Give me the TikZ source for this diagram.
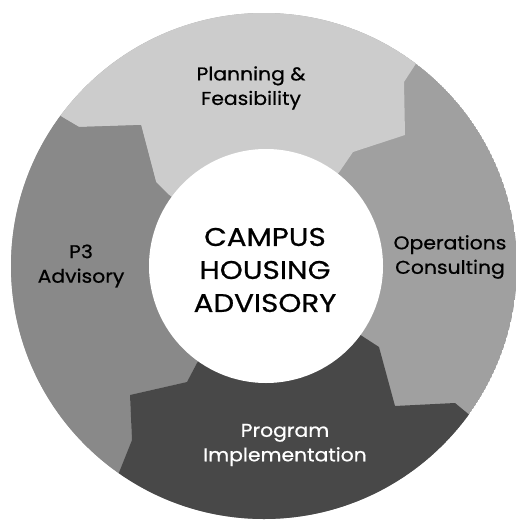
\documentclass[tikz,border=0pt]{standalone}
\usepackage{fontspec}
\setmainfont{Poppins}
\newfontfamily\lblfont[FakeStretch=1.1, FakeBold=0.7]{Poppins}
\newfontfamily\ctrfont[FakeStretch=1.15, FakeBold=0.7]{Poppins}
\definecolor{planc}{RGB}{204,204,204}
\definecolor{opc}{RGB}{160,160,160}
\definecolor{p3c}{RGB}{137,137,137}
\definecolor{progc}{RGB}{72,72,72}
\tikzset{
  lbl/.style={align=center, font=\lblfont\fontsize{18.5}{24.5}\selectfont, inner sep=0pt},
  ctr/.style={align=center, font=\ctrfont\fontsize{25.5}{33}\selectfont, inner sep=0pt}
}
\begin{document}
\begin{tikzpicture}[x=1pt,y=-1pt]
\useasboundingbox (0,0) rectangle (516,522);
\fill[white] (0,0) rectangle (516,522);
\coordinate (O) at (264,266);
\begin{scope}
\clip (O) circle[radius=253];
\fill[opc] (O) circle[radius=253];
% Planning
\fill[planc] (264,266) -- (169,195) -- (156,182) -- (141,125) -- (79,127) -- (62,117) -- (30,93) -- (0,93) -- (0,0) -- (516,0) -- (440,30) -- (417,62) -- (404,82) -- (405,135) -- (353,152) -- (340,171) -- cycle;
% P3
\fill[p3c] (264,266) -- (169,195) -- (156,182) -- (141,125) -- (79,127) -- (62,117) -- (30,93) -- (0,93) -- (0,522) -- (100,510) -- (118,475) -- (132,440) -- (130,395) -- (187,382) -- (197,363) -- cycle;
% Program
\fill[progc] (264,266) -- (197,363) -- (187,382) -- (130,395) -- (132,440) -- (118,475) -- (100,510) -- (0,522) -- (516,522) -- (495,434) -- (472,417) -- (455,403) -- (395,406) -- (379,347) -- (362,336) -- cycle;
\end{scope}
\fill[white] (266,266) circle[radius=117];
\node[lbl] (plan) at (251,88) {Planning \&\\Feasibility};
\node[lbl] (p3) at (81,266) {P3\\Advisory};
\node[lbl] (ops) at (450,257) {Operations\\Consulting};
\node[lbl, text=white] (prog) at (285,445) {Program\\Implementation};
\node[ctr] (c) at (265,270) {CAMPUS\\HOUSING\\ADVISORY};
\end{tikzpicture}
\end{document}
